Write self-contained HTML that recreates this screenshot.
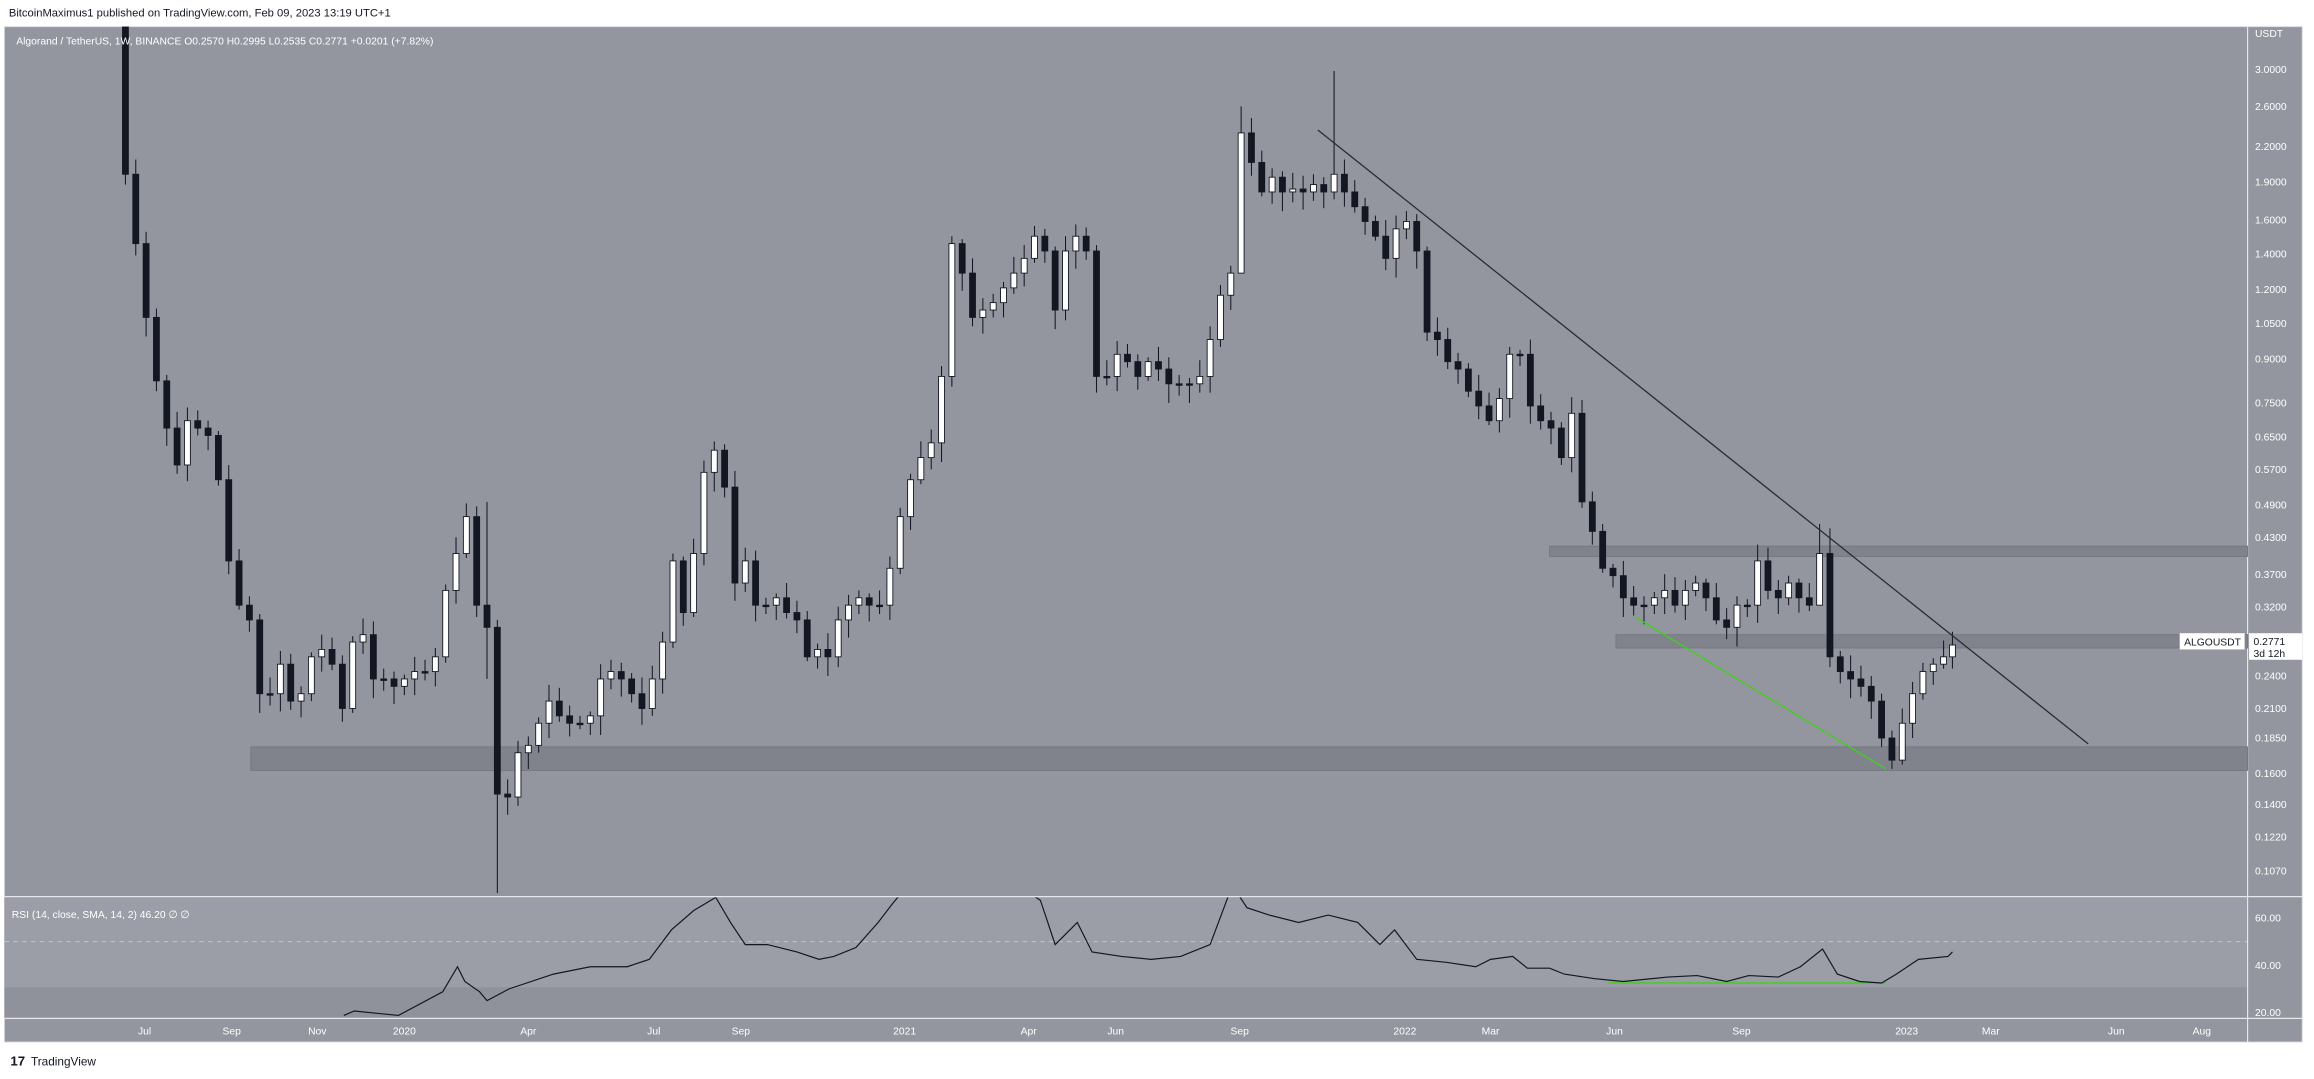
<!DOCTYPE html>
<html><head><meta charset="utf-8"><style>
html,body{margin:0;padding:0;background:#fff;width:2314px;height:1079px;overflow:hidden}
svg{display:block}
text{font-family:"Liberation Sans",sans-serif}
</style></head><body>
<svg id="s" width="2314" height="1079" viewBox="0 0 1568 731" xmlns="http://www.w3.org/2000/svg">
<rect x="0" y="0" width="1568" height="731" fill="#fff"/>
<text x="6" y="11" font-size="7.6" fill="#131722">BitcoinMaximus1 published on TradingView.com, Feb 09, 2023 13:19 UTC+1</text>
<rect x="3" y="18" width="1557" height="688" fill="#93969f" stroke="#d6d8de" stroke-width="0.6"/>
<rect x="3" y="608" width="1520" height="61" fill="#9b9ea6"/>
<rect x="3" y="669" width="1520" height="21" fill="#8f929b"/>
<line x1="3" y1="638" x2="1523" y2="638" stroke="#c8cad0" stroke-width="0.6" stroke-dasharray="3,3"/>
<line x1="3" y1="607.5" x2="1560" y2="607.5" stroke="#e6e7ea" stroke-width="0.8"/>
<line x1="3" y1="690" x2="1560" y2="690" stroke="#e6e7ea" stroke-width="0.8"/>
<line x1="1523" y1="18" x2="1523" y2="706" stroke="#e6e7ea" stroke-width="0.8"/>
<rect x="1050" y="370" width="473" height="7" fill="#80838c" stroke="#74777f" stroke-width="0.6"/>
<rect x="1095" y="430" width="428" height="9" fill="#80838c" stroke="#74777f" stroke-width="0.6"/>
<rect x="170" y="506" width="1353" height="16" fill="#80838c" stroke="#74777f" stroke-width="0.6"/>
<clipPath id="mc"><rect x="3" y="18" width="1520" height="589"/></clipPath>
<g id="c" clip-path="url(#mc)"></g>
<line x1="893" y1="88" x2="1415" y2="504" stroke="#2a2e39" stroke-width="0.9"/>
<line x1="1108" y1="418" x2="1278" y2="521" stroke="#3fd21a" stroke-width="0.9"/>
<line x1="1090" y1="666" x2="1278" y2="666" stroke="#3fd21a" stroke-width="0.9"/>
<clipPath id="rc"><rect x="3" y="608" width="1520" height="82"/></clipPath>
<polyline id="rsi" clip-path="url(#rc)" fill="none" stroke="#131722" stroke-width="0.8" points=""/>
<text x="11" y="30" font-size="7" fill="#fff">Algorand / TetherUS, 1W, BINANCE  O0.2570  H0.2995  L0.2535  C0.2771  +0.0201 (+7.82%)</text>
<text x="8" y="622" font-size="7" fill="#fff">RSI (14, close, SMA, 14, 2)  46.20  ∅  ∅</text>
<g id="ax" font-size="7" fill="#fff"></g>
<rect x="1477" y="429" width="44" height="11" fill="#fff"/>
<text x="1480" y="437.5" font-size="7" fill="#131722">ALGOUSDT</text>
<rect x="1524" y="429" width="36" height="18" fill="#fff"/>
<text x="1527" y="437" font-size="7" fill="#131722">0.2771</text>
<text x="1527" y="445" font-size="7" fill="#131722">3d 12h</text>
<text x="7" y="722" font-size="9" font-weight="bold" fill="#131722">17</text>
<text x="21" y="722" font-size="8" fill="#131722">TradingView</text>
</svg>
<script>
(function(){
var d=[[85,118],[92,165],[99,215],[106,258],[113,290],[120,315],[127,285],[134,290],[141,295],[148,325],[155,380],[162,410],[169,420],[176,470],[183,470],[190,450],[197,475],[204,470],[211,445],[218,440],[225,450],[232,480],[239,435],[246,430],[253,460],[260,460],[267,465],[274,460],[281,455],[288,455],[295,445],[302,400],[309,375],[316,350],[323,410],[330,425],[337,538],[344,540],[351,510],[358,505],[365,490],[372,475],[379,485],[386,490],[393,490],[400,485],[407,460],[414,455],[421,460],[428,470],[435,480],[442,460],[449,435],[456,380],[463,415],[470,375],[477,320],[484,305],[491,330],[498,395],[505,380],[512,410],[519,410],[526,405],[533,415],[540,420],[547,445],[554,440],[561,445],[568,420],[575,410],[582,405],[589,410],[596,410],[603,385],[610,350],[617,325],[624,310],[631,300],[638,255],[645,165],[652,185],[659,215],[666,210],[673,205],[680,195],[687,185],[694,175],[701,160],[708,170],[715,210],[722,170],[729,160],[736,170],[743,255],[750,255],[757,240],[764,245],[771,255],[778,245],[785,250],[792,260],[799,260],[806,260],[813,255],[820,230],[827,200],[834,185],[841,90],[848,110],[855,130],[862,120],[869,130],[876,128],[883,130],[890,125],[897,130],[904,118],[911,130],[918,140],[925,150],[932,160],[939,175],[946,155],[953,150],[960,170],[967,225],[974,230],[981,245],[988,250],[995,265],[1002,275],[1009,285],[1016,270],[1023,240],[1030,240],[1037,275],[1044,285],[1051,290],[1058,310],[1065,280],[1072,340],[1079,360],[1086,385],[1093,390],[1100,405],[1107,410],[1114,410],[1121,405],[1128,400],[1135,410],[1142,400],[1149,395],[1156,405],[1163,420],[1170,425],[1177,410],[1184,410],[1191,380],[1198,400],[1205,405],[1212,395],[1219,405],[1226,410],[1233,375],[1240,445],[1247,455],[1254,460],[1261,465],[1268,475],[1275,500],[1282,515],[1289,490],[1296,470],[1303,455],[1310,450],[1317,445],[1323,437]];
var sp={85:[5,125],330:[340,460],337:[420,605],841:[72,185],904:[48,135],1233:[355,395],1240:[358,452],1282:[495,521],1289:[480,518]};
var g='',prev=5;
for(var i=0;i<d.length;i++){var x=d[i][0],c=d[i][1],o=prev;prev=c;
var bt=Math.min(o,c),bb=Math.max(o,c);if(bb-bt<1){bb=bt+1;}
var hh=bt-3-((i*7)%9),ll=bb+3+((i*5)%11);
if(sp[x]){hh=sp[x][0];ll=sp[x][1];}
var bull=c<o;
g+='<line x1="'+x+'" y1="'+hh+'" x2="'+x+'" y2="'+ll+'" stroke="#131722" stroke-width="0.7"/>';
g+='<rect x="'+(x-2)+'" y="'+bt+'" width="4" height="'+(bb-bt)+'" fill="'+(bull?'#fff':'#131722')+'" stroke="#131722" stroke-width="0.6"/>';}
document.getElementById('c').innerHTML=g;
document.getElementById('rsi').setAttribute('points',"233,688 240,685 270,688 300,672 310,655 315,665 325,672 330,678 345,670 375,660 400,655 425,655 440,650 455,630 470,617 485,608 495,625 505,640 520,640 540,645 555,650 565,648 580,642 595,625 605,612 615,600 640,604 660,606 690,600 705,610 715,640 730,625 740,645 760,648 780,650 800,648 820,640 835,600 845,615 860,620 880,625 900,620 920,625 935,640 945,630 960,650 980,652 1000,655 1010,650 1025,648 1035,656 1050,656 1060,660 1080,663 1100,665 1130,662 1150,661 1170,665 1185,661 1205,662 1220,655 1235,643 1245,660 1260,665 1275,666 1285,660 1300,650 1320,648 1323,645");
var p=[["3.0000",47],["2.6000",72],["2.2000",99],["1.9000",123],["1.6000",149],["1.4000",172],["1.2000",196],["1.0500",219],["0.9000",243],["0.7500",273],["0.6500",296],["0.5700",318],["0.4900",342],["0.4300",364],["0.3700",389],["0.3200",411],["0.2400",458],["0.2100",480],["0.1850",500],["0.1600",524],["0.1400",545],["0.1220",567],["0.1070",590],["60.00",622],["40.00",654],["20.00",686]];
var a='<text x="1528" y="25">USDT</text>';
p.forEach(function(q){a+='<text x="1528" y="'+(q[1]+2.5)+'">'+q[0]+'</text>';});
var t=[["Jul",98],["Sep",157],["Nov",215],["2020",274],["Apr",358],["Jul",443],["Sep",502],["2021",613],["Apr",697],["Jun",756],["Sep",840],["2022",952],["Mar",1010],["Jun",1094],["Sep",1180],["2023",1292],["Mar",1349],["Jun",1434],["Aug",1492]];
t.forEach(function(q){a+='<text x="'+q[1]+'" y="701" text-anchor="middle">'+q[0]+'</text>';});
document.getElementById('ax').innerHTML=a;
})();
</script>
</body></html>
